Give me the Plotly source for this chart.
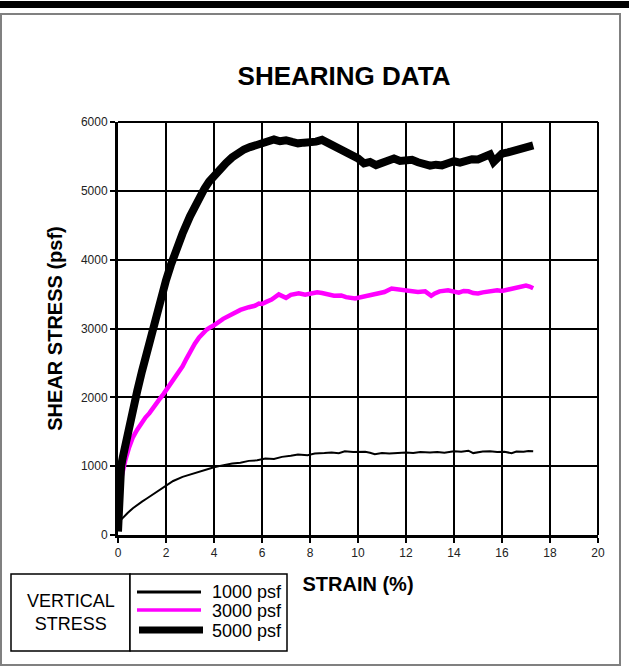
import plotly.graph_objects as go

# ---------------- data ----------------
strain_1000 = [0, 0.03, 0.08, 0.15, 0.25, 0.4, 0.62, 0.8, 1.0, 1.2, 1.4, 1.6, 1.8, 2.0, 2.3, 2.69, 3.0, 3.38, 3.7,
               4.0, 4.4, 4.76, 5.1, 5.45, 5.8, 6.14, 6.5, 6.83, 7.2, 7.5, 7.9, 8.2, 8.6, 8.9, 9.2, 9.45, 9.8,
               10.0, 10.3, 10.5, 10.7, 11.0, 11.3, 11.66, 12.0, 12.3, 12.6, 13.0, 13.3, 13.6, 14.0, 14.3, 14.6,
               14.8, 15.2, 15.5, 15.8, 16.1, 16.4, 16.6, 16.9, 17.1, 17.3]
stress_1000 = [100, 160, 200, 230, 270, 320, 390, 440, 485, 530, 575, 625, 675, 720, 785, 845, 880, 918, 955,
               985, 1015, 1040, 1050, 1077, 1085, 1110, 1105, 1135, 1150, 1169, 1160, 1183, 1190, 1198, 1188, 1217, 1205,
               1210, 1208, 1195, 1175, 1190, 1185, 1193, 1200, 1190, 1205, 1200, 1205, 1195, 1215, 1210, 1225,
               1190, 1212, 1215, 1205, 1210, 1188, 1212, 1210, 1222, 1218]

strain_3000 = [0, 0.03, 0.07, 0.12, 0.2, 0.3, 0.45, 0.62, 0.8, 1.0, 1.15, 1.31, 1.5, 1.7, 1.9, 2.1, 2.35, 2.5, 2.69,
               2.85, 3.0, 3.2, 3.38, 3.55, 3.7, 3.85, 4.0, 4.38, 4.76, 5.1, 5.45, 5.7, 5.87, 6.0, 6.2, 6.4, 6.7,
               7.0, 7.2, 7.53, 7.8, 8.0, 8.3, 8.5, 8.8, 9.0, 9.3, 9.5, 9.88, 10.1, 10.3, 10.6, 10.8, 11.1, 11.4,
               11.7, 12.0, 12.3, 12.5, 12.8, 13.05, 13.2, 13.4, 13.75, 14.0, 14.2, 14.4, 14.6, 14.8, 15.0, 15.2,
               15.5, 15.8, 16.0, 16.3, 16.5, 16.7, 17.0, 17.15, 17.3]
stress_3000 = [100, 450, 650, 800, 950, 1080, 1260, 1420, 1530, 1640, 1710, 1770, 1870, 1960, 2050, 2150, 2280, 2350,
               2450, 2560, 2660, 2780, 2870, 2940, 2985, 3020, 3045, 3140, 3213, 3270, 3309, 3330, 3363, 3357, 3390,
               3420, 3495, 3445, 3490, 3512, 3490, 3500, 3525, 3515, 3495, 3475, 3480, 3455, 3435, 3450, 3460, 3480,
               3500, 3530, 3580, 3570, 3560, 3545, 3530, 3540, 3475, 3510, 3540, 3556, 3530, 3520, 3545, 3540, 3515,
               3510, 3525, 3540, 3556, 3545, 3570, 3575, 3590, 3625, 3610, 3585]

strain_5000 = [0, 0.03, 0.07, 0.13, 0.2, 0.3, 0.45, 0.6, 0.8, 1.0, 1.2, 1.45, 1.6, 1.8, 2.0, 2.2, 2.4, 2.69, 3.0,
               3.2, 3.4, 3.6, 3.8, 4.0, 4.25, 4.5, 4.75, 5.0, 5.25, 5.5, 5.75, 6.0, 6.25, 6.5, 6.75, 7.0, 7.25,
               7.5, 7.75, 8.0, 8.25, 8.5, 8.75, 9.0, 9.25, 9.5, 9.75, 10.0, 10.25, 10.5, 10.75, 11.0, 11.25, 11.5,
               11.75, 12.0, 12.25, 12.5, 12.75, 13.0, 13.25, 13.5, 13.75, 14.0, 14.25, 14.5, 14.75, 15.0, 15.25,
               15.5, 15.65, 15.8, 16.0, 16.25, 16.5, 16.75, 17.0, 17.15, 17.3]
stress_5000 = [50, 450, 750, 1000, 1130, 1310, 1560, 1790, 2090, 2380, 2665, 3010, 3210, 3465, 3700, 3920, 4120,
               4380, 4630, 4775, 4910, 5030, 5135, 5225, 5320, 5405, 5485, 5555, 5600, 5635, 5660, 5715, 5725, 5745,
               5720, 5735, 5710, 5690, 5700, 5695, 5715, 5740, 5700, 5650, 5620, 5560, 5520, 5470, 5400, 5420, 5375,
               5400, 5440, 5470, 5435, 5440, 5450, 5415, 5400, 5365, 5380, 5370, 5400, 5430, 5410, 5440, 5460, 5455,
               5495, 5530, 5420, 5480, 5540, 5560, 5580, 5600, 5610, 5640, 5660]

series_names = ["1000 psf", "3000 psf", "5000 psf"]
series_colors = ["#000000", "#FF00FF", "#000000"]
series_widths = [2, 4.5, 8]

x_ticks = [0, 2, 4, 6, 8, 10, 12, 14, 16, 18, 20]
y_ticks = [0, 1000, 2000, 3000, 4000, 5000, 6000]

FONT = "Arial, 'Liberation Sans', sans-serif"

# ---------------- geometry helpers (pixel -> paper) ----------------
W, H = 629, 666
L, R, T, B = 118, 31, 122, 131
PW, PH = W - L - R, H - T - B


def px(x):
    return (x - L) / PW


def py(y):
    return (H - B - y) / PH


fig = go.Figure()
data = [(strain_1000, stress_1000), (strain_3000, stress_3000), (strain_5000, stress_5000)]
for (xs, ys), name, col, w in zip(data, series_names, series_colors, series_widths):
    fig.add_trace(go.Scatter(x=xs, y=ys, mode="lines", name=name,
                             line=dict(color=col, width=w, shape="linear"),
                             showlegend=False))

axis_common = dict(showgrid=True, gridcolor="#000000", gridwidth=2, zeroline=False,
                   showline=True, linecolor="#000000", linewidth=3,
                   ticks="outside", ticklen=5, tickwidth=2, tickcolor="#000000",
                   tickfont=dict(family=FONT, size=12, color="#222222"))

fig.update_layout(
    width=W, height=H,
    margin=dict(l=L, r=R, t=T, b=B, autoexpand=False),
    paper_bgcolor="white", plot_bgcolor="white",
    title=dict(text="SHEARING DATA", x=px(344), xref="paper", xanchor="center",
               y=1 - 76 / H, yref="container", yanchor="middle",
               font=dict(family=FONT, size=26, color="#000000", weight="bold")),
    xaxis=dict(range=[0, 20], tickvals=x_ticks, **axis_common,
               title=dict(text="STRAIN (%)", standoff=18,
                          font=dict(family=FONT, size=20, color="#000000", weight="bold"))),
    yaxis=dict(range=[0, 6000], tickvals=y_ticks, **axis_common,
               title=dict(text="SHEAR STRESS (psf)", standoff=13,
                          font=dict(family=FONT, size=20, color="#000000", weight="bold"))),
    showlegend=False,
)

shapes = []
# top and right plot frame (gridlines at 6000 and 20)
shapes.append(dict(type="line", xref="paper", yref="paper", x0=0, x1=1, y0=1, y1=1,
                   line=dict(color="#000000", width=2), layer="below"))
shapes.append(dict(type="line", xref="paper", yref="paper", x0=1, x1=1, y0=0, y1=1,
                   line=dict(color="#000000", width=2), layer="below"))
# top thick bar
shapes.append(dict(type="rect", xref="paper", yref="paper", x0=px(0), x1=px(W), y0=py(1), y1=py(8),
                   fillcolor="#000000", line=dict(width=0), layer="above"))
# outer gray border
shapes.append(dict(type="rect", xref="paper", yref="paper", x0=px(1), x1=px(620), y0=py(14), y1=py(665),
                   fillcolor="rgba(0,0,0,0)", line=dict(color="#808080", width=2), layer="below"))
# legend boxes
shapes.append(dict(type="rect", xref="paper", yref="paper", x0=px(11), x1=px(130), y0=py(574), y1=py(651),
                   fillcolor="white", line=dict(color="#000000", width=1.5), layer="above"))
shapes.append(dict(type="rect", xref="paper", yref="paper", x0=px(130), x1=px(287), y0=py(574), y1=py(651),
                   fillcolor="white", line=dict(color="#000000", width=1.5), layer="above"))
# legend line samples
legend_y = [592, 610, 630]
legend_x0 = [137, 137, 139]
legend_x1 = [201, 201, 203]
legend_w = [3, 3.5, 7]
for yy, x0, x1, col, w in zip(legend_y, legend_x0, legend_x1, series_colors, legend_w):
    shapes.append(dict(type="line", xref="paper", yref="paper", x0=px(x0), x1=px(x1), y0=py(yy), y1=py(yy),
                       line=dict(color=col, width=w), layer="above"))
fig.update_layout(shapes=shapes)

annotations = []
for yy, name in zip([592, 611, 631], series_names):
    annotations.append(dict(xref="paper", yref="paper", x=px(284), y=py(yy), text=name, showarrow=False,
                            xanchor="right", yanchor="middle",
                            font=dict(family=FONT, size=18, color="#000000")))
annotations.append(dict(xref="paper", yref="paper", x=px(71), y=py(612.5), text="VERTICAL<br>STRESS",
                        showarrow=False, xanchor="center", yanchor="middle", align="center",
                        font=dict(family=FONT, size=18, color="#000000")))
fig.update_layout(annotations=annotations)

fig.write_html("out.html")
